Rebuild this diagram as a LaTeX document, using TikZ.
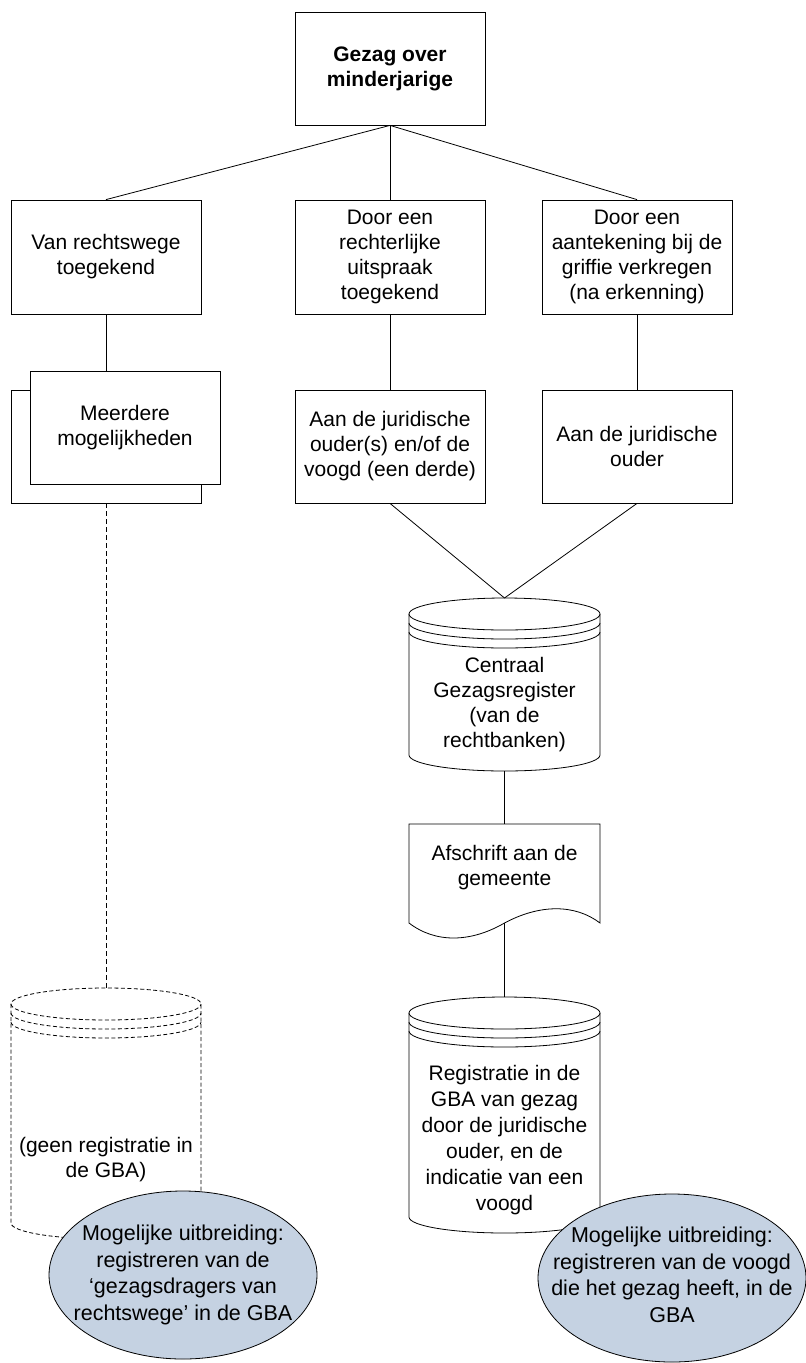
\documentclass[tikz,border=0pt]{standalone}
\usepackage{fontspec}
\setmainfont{Liberation Sans}
\usetikzlibrary{shapes.geometric,calc}
\definecolor{notefill}{RGB}{197,210,226}

\begin{document}
\begin{tikzpicture}[x=1pt,y=-1pt,
  every path/.style={line width=0.8pt},
  txt/.style={font=\fontsize{21}{25}\selectfont, align=center},
  stepbox/.style={txt, draw, fill=white, inner sep=0pt,
    minimum width=190pt, minimum height=113pt},
  wire/.style={draw, line width=0.8pt},
  dashwire/.style={draw, line width=0.8pt, dash pattern=on 5pt off 3pt},
  note/.style={ellipse, draw, fill=notefill, inner sep=0pt,
    minimum width=268pt, minimum height=168pt},
  notetxt/.style={font=\fontsize{21.5}{26.5}\selectfont, align=center}
]
\useasboundingbox (0,0) rectangle (806,1363);

% database drawing: left x, right x, centre y of the lid, y of the base corners, options
\newcommand\dbshape[5]{%
  \pgfmathsetmacro\rx{(#2-#1)/2}%
  \pgfmathsetmacro\cx{(#2+#1)/2}%
  \draw[#5, fill=white] (#1,#3) -- (#1,#4)
    arc[start angle=180, end angle=360, x radius=\rx pt, y radius=16pt]
    -- (#2,#3)
    arc[start angle=0, end angle=180, x radius=\rx pt, y radius=16pt] -- cycle;
  \draw[#5] (#1,#3) arc[start angle=180, end angle=360, x radius=\rx pt, y radius=16pt];
  \draw[#5] ($(#1,#3)+(0,9)$) arc[start angle=180, end angle=360, x radius=\rx pt, y radius=16pt];
  \draw[#5] ($(#1,#3)+(0,18)$) arc[start angle=180, end angle=360, x radius=\rx pt, y radius=16pt];
}

% top
\node[stepbox, font=\fontsize{21}{25}\selectfont\bfseries] (top) at (390,68.5) {Gezag over\\minderjarige};

% second row
\node[stepbox, minimum height=114pt] (rw) at (106,257) {Van rechtswege\\toegekend};
\node[stepbox, minimum height=114pt] (ru) at (390,257) {Door een\\rechterlijke\\uitspraak\\toegekend};
\node[stepbox, minimum height=114pt] (ag) at (637,257) {Door een\\aantekening bij de\\griffie verkregen\\(na erkenning)};

% third row
\node[stepbox] (mback) at (106,446.5) {};
\node[stepbox] (multi) at (125,427.5) {Meerdere\\mogelijkheden};
\node[stepbox] (ov) at (390,446.5) {Aan de juridische\\ouder(s) en/of de\\voogd (een derde)};
\node[stepbox] (jo) at (637,446.5) {Aan de juridische\\ouder};

% central register
\dbshape{409}{600}{614}{755}{}
\coordinate (cgrtop) at (504.5,598);
\coordinate (cgrbot) at (504.5,771);
\node[txt] (cgr) at (504.5,705) {Centraal\\Gezagsregister\\(van de\\rechtbanken)};

% copy for the municipality
\draw[fill=white] (409,824) -- (600,824) -- (600,923)
  .. controls (575,904) and (540,904) .. (504.5,923)
  .. controls (470,943) and (435,943) .. (409,923) -- cycle;
\coordinate (doctop) at (504.5,824);
\coordinate (docbot) at (504.5,923);
\node[txt] (doc) at (504.5,867.5) {Afschrift aan de\\gemeente};

% GBA registration
\dbshape{409}{600}{1013}{1217}{}
\coordinate (gbatop) at (504.5,997);
\node[txt, font=\fontsize{21}{26}\selectfont] (gba) at (504.5,1140) {Registratie in de\\GBA van gezag\\door de juridische\\ouder, en de\\indicatie van een\\voogd};

% no registration
\dbshape{11}{201}{1004}{1223}{dash pattern=on 4pt off 2.5pt}
\coordinate (nonetop) at (106,988);
\node[txt] (none) at (106,1160) {(geen registratie in\\de GBA)};

% notes
\node[note] (noteA) at (183,1275) {};
\node[notetxt] (noteAtxt) at (noteA.center) {Mogelijke uitbreiding:\\registreren van de\\‘gezagsdragers van\\rechtswege’ in de GBA};
\node[note] (noteB) at (672,1278) {};
\node[notetxt] (noteBtxt) at ($(noteB.center)+(0,-3)$) {Mogelijke uitbreiding:\\registreren van de voogd\\die het gezag heeft, in de\\GBA};

% connectors
\path[wire] (top.south) -- (rw.north);
\path[wire] (top.south) -- (ru.north);
\path[wire] (top.south) -- (ag.north);
\path[wire] (rw.south) -- (rw.south |- multi.north);
\path[wire] (ru.south) -- (ov.north);
\path[wire] (ag.south) -- (jo.north);
\path[wire] (ov.south) -- (cgrtop);
\path[wire] (jo.south) -- (cgrtop);
\path[wire] (cgrbot) -- (doctop);
\path[wire] (docbot) -- (gbatop);
\path[dashwire] (mback.south) -- (nonetop);
\end{tikzpicture}
\end{document}
